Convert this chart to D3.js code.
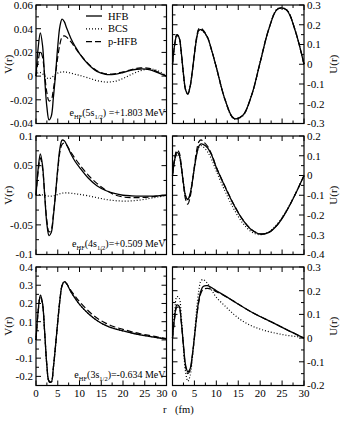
<!DOCTYPE html>
<meta charset="utf-8">
<script src="https://d3js.org/d3.v7.min.js"></script>
<style>
  body { margin: 0; background: #fff; }
</style>
<div id="chart"></div>
<script>

var width = 340, height = 422;
var serif = "'Liberation Serif', 'Times New Roman', Times, serif";

// radial grid (fm)
const R = [0,0.5,1,1.5,2,2.5,3,3.5,4,4.5,5,5.5,6,6.5,7,8,9,10,12,14,16,18,20,22,24,26,28,30];

// 5s1/2  --------------------------------------------------------------
const v5s_hfb  = [0,0.024,0.0365,0.026,-0.002,-0.026,-0.037,-0.034,-0.018,0.002,0.025,0.042,0.048,0.046,0.041,0.032,0.025,0.019,0.010,0.004,0.0015,0.0015,0.003,0.005,0.006,0.0055,0.003,0];
const v5s_bcs  = [0,0.003,0.003,0.002,0,-0.0015,-0.002,-0.0015,0,0.0012,0.0025,0.0032,0.0035,0.0035,0.0033,0.0025,0.0015,0.0006,-0.0015,-0.0038,-0.005,-0.0045,-0.002,0.0015,0.0045,0.006,0.0045,0];
const v5s_phfb = [0,0.013,0.021,0.016,0.001,-0.014,-0.021,-0.02,-0.011,0.002,0.016,0.027,0.033,0.034,0.033,0.029,0.024,0.019,0.0105,0.0045,0.002,0.002,0.0035,0.0055,0.007,0.0065,0.0035,0];
const u5s_hfb  = [0,0.1,0.148,0.135,0.06,-0.05,-0.13,-0.15,-0.115,-0.04,0.05,0.13,0.172,0.175,0.168,0.135,0.065,-0.015,-0.18,-0.274,-0.26,-0.16,0.01,0.18,0.28,0.275,0.17,0];
const u5s_bcs  = [0,0.098,0.146,0.133,0.058,-0.05,-0.128,-0.148,-0.113,-0.04,0.05,0.128,0.17,0.173,0.166,0.133,0.064,-0.016,-0.181,-0.276,-0.262,-0.161,0.01,0.181,0.282,0.277,0.171,0];
const u5s_phfb = [0,0.1,0.15,0.138,0.062,-0.05,-0.132,-0.152,-0.117,-0.04,0.055,0.137,0.18,0.183,0.173,0.137,0.066,-0.015,-0.18,-0.274,-0.26,-0.16,0.01,0.18,0.28,0.276,0.17,0];

// 4s1/2  --------------------------------------------------------------
const v4s_hfb  = [0,0.045,0.07,0.05,0,-0.048,-0.068,-0.063,-0.035,0.003,0.045,0.079,0.093,0.092,0.086,0.07,0.057,0.047,0.029,0.016,0.008,0.003,0,-0.001,-0.0015,-0.0015,-0.001,0];
const v4s_bcs  = [0,0.001,0.001,0.0005,0,-0.001,-0.0015,-0.0015,-0.001,0,0.0012,0.0025,0.0035,0.004,0.004,0.0035,0.0025,0.0015,-0.001,-0.004,-0.007,-0.009,-0.0098,-0.0095,-0.008,-0.0055,-0.003,0];
const v4s_phfb = [0,0.04,0.063,0.046,0.001,-0.043,-0.062,-0.058,-0.032,0.003,0.042,0.073,0.086,0.088,0.085,0.073,0.062,0.052,0.034,0.02,0.009,0.001,-0.003,-0.004,-0.004,-0.003,-0.0015,0];
const u4s_hfb  = [0,0.08,0.117,0.105,0.045,-0.04,-0.105,-0.122,-0.095,-0.035,0.04,0.105,0.148,0.16,0.158,0.14,0.1,0.04,-0.058,-0.149,-0.224,-0.275,-0.297,-0.288,-0.248,-0.181,-0.096,0];
const u4s_bcs  = [0,0.075,0.11,0.1,0.043,-0.04,-0.103,-0.12,-0.093,-0.034,0.04,0.105,0.143,0.151,0.145,0.12,0.078,0.022,-0.08,-0.17,-0.24,-0.285,-0.3,-0.285,-0.243,-0.177,-0.094,0];
const u4s_phfb = [0,0.088,0.128,0.118,0.05,-0.045,-0.122,-0.145,-0.112,-0.04,0.048,0.125,0.17,0.18,0.172,0.148,0.104,0.042,-0.056,-0.147,-0.222,-0.273,-0.295,-0.287,-0.247,-0.18,-0.095,0];

// 3s1/2  --------------------------------------------------------------
const v3s_hfb  = [0,0.16,0.245,0.2,0.04,-0.14,-0.228,-0.232,-0.15,-0.03,0.1,0.22,0.3,0.32,0.31,0.265,0.228,0.195,0.145,0.107,0.08,0.062,0.05,0.038,0.028,0.02,0.012,0.005];
const v3s_bcs  = [0,0.16,0.245,0.2,0.04,-0.14,-0.228,-0.232,-0.15,-0.03,0.1,0.22,0.3,0.32,0.31,0.265,0.228,0.195,0.145,0.107,0.08,0.062,0.05,0.038,0.028,0.02,0.012,0.005];
const v3s_phfb = [0,0.155,0.24,0.197,0.04,-0.138,-0.225,-0.23,-0.15,-0.03,0.1,0.218,0.297,0.318,0.31,0.272,0.24,0.21,0.16,0.12,0.092,0.072,0.058,0.045,0.034,0.025,0.016,0.007];
const u3s_hfb  = [0,0.09,0.14,0.135,0.07,-0.03,-0.115,-0.142,-0.13,-0.075,0.005,0.09,0.16,0.2,0.218,0.221,0.212,0.2,0.178,0.155,0.132,0.11,0.091,0.073,0.055,0.036,0.018,0];
const u3s_bcs  = [0,0.11,0.175,0.17,0.09,-0.04,-0.145,-0.182,-0.16,-0.09,0.01,0.12,0.2,0.242,0.247,0.23,0.2,0.172,0.135,0.1,0.072,0.052,0.038,0.027,0.019,0.012,0.007,0.003];
const u3s_phfb = [0,0.085,0.13,0.128,0.068,-0.035,-0.122,-0.15,-0.137,-0.08,0,0.085,0.152,0.19,0.206,0.21,0.205,0.196,0.177,0.155,0.132,0.11,0.091,0.073,0.055,0.036,0.018,0];

// axis ticks
const xTicks = [0,5,10,15,20,25,30];
const yTicks = {
  v5s: [-0.04,-0.02,0,0.02,0.04,0.06],
  u5s: [-0.3,-0.2,-0.1,0,0.1,0.2,0.3],
  v4s: [-0.1,-0.05,0,0.05,0.1],
  u4s: [-0.4,-0.3,-0.2,-0.1,0,0.1,0.2],
  v3s: [-0.2,-0.1,0,0.1,0.2,0.3,0.4],
  u3s: [-0.2,-0.1,0,0.1,0.2,0.3]
};
const legendNames = ["HFB","BCS","p-HFB"];
const levels = [
  {n:"5", e:"+1.803", gap:" "},
  {n:"4", e:"+0.509", gap:""},
  {n:"3", e:"-0.634", gap:""}
];

// ---------------------------------------------------------------------
var colX = [[36,166.5],[172.5,304]];
var rowY = [[5,123.5],[136,254.5],[267,385.5]];
var styles = [
  {dash:null, w:1.3},
  {dash:"1,2", w:1.2},
  {dash:"6,3", w:1.2}
];
var fsTick = "11px", fsText = "10.5px";

var panels = [
  {c:0,r:0, dom:[-0.04,0.06], ticks:yTicks.v5s, minor:0.01,  s:[v5s_hfb,v5s_bcs,v5s_phfb], lab:"V(r)"},
  {c:1,r:0, dom:[-0.3,0.3],   ticks:yTicks.u5s, minor:0.05,  s:[u5s_hfb,u5s_bcs,u5s_phfb], lab:"U(r)"},
  {c:0,r:1, dom:[-0.1,0.1],   ticks:yTicks.v4s, minor:0.025, s:[v4s_hfb,v4s_bcs,v4s_phfb], lab:"V(r)"},
  {c:1,r:1, dom:[-0.4,0.2],   ticks:yTicks.u4s, minor:0.05,  s:[u4s_hfb,u4s_bcs,u4s_phfb], lab:"U(r)"},
  {c:0,r:2, dom:[-0.25,0.4],  ticks:yTicks.v3s, minor:0.05,  s:[v3s_hfb,v3s_bcs,v3s_phfb], lab:"V(r)"},
  {c:1,r:2, dom:[-0.2,0.3],   ticks:yTicks.u3s, minor:0.05,  s:[u3s_hfb,u3s_bcs,u3s_phfb], lab:"U(r)"}
];

var svg = d3.select("#chart")
  .append("svg")
  .attr("width", width)
  .attr("height", height)
  .attr("font-family", serif);

panels.forEach(function(p){
  var x0 = colX[p.c][0], x1 = colX[p.c][1];
  var y0 = rowY[p.r][0], y1 = rowY[p.r][1];
  var x = d3.scaleLinear().domain([0,30]).range([x0,x1]);
  var y = d3.scaleLinear().domain(p.dom).range([y1,y0]);
  var g = svg.append("g");

  // curves (drawn first, frame on top)
  var line = d3.line()
    .x(function(d,i){ return x(R[i]); })
    .y(function(d){ return y(d); })
    .curve(d3.curveCatmullRom);
  [1,2,0].forEach(function(k){
    g.append("path")
      .attr("d", line(p.s[k]))
      .attr("fill","none")
      .attr("stroke","#000")
      .attr("stroke-width", styles[k].w)
      .attr("stroke-dasharray", styles[k].dash);
  });

  // ticks (inward, all four sides)
  var xMinor = d3.range(0, 30.01, 2.5);
  xMinor.forEach(function(t){
    var len = (t % 5 === 0) ? 5 : 3;
    g.append("line").attr("x1",x(t)).attr("x2",x(t)).attr("y1",y1).attr("y2",y1-len)
      .attr("stroke","#000").attr("stroke-width",1);
    g.append("line").attr("x1",x(t)).attr("x2",x(t)).attr("y1",y0).attr("y2",y0+len)
      .attr("stroke","#000").attr("stroke-width",1);
  });
  var nMin = Math.round((p.dom[1]-p.dom[0])/p.minor);
  for (var i=0;i<=nMin;i++){
    var v = p.dom[0] + i*p.minor;
    var major = p.ticks.some(function(t){ return Math.abs(t-v) < 1e-9; });
    var len = major ? 5 : 3;
    g.append("line").attr("x1",x0).attr("x2",x0+len).attr("y1",y(v)).attr("y2",y(v))
      .attr("stroke","#000").attr("stroke-width",1);
    g.append("line").attr("x1",x1).attr("x2",x1-len).attr("y1",y(v)).attr("y2",y(v))
      .attr("stroke","#000").attr("stroke-width",1);
  }

  // frame
  g.append("rect")
    .attr("x",x0).attr("y",y0).attr("width",x1-x0).attr("height",y1-y0)
    .attr("fill","none").attr("stroke","#000").attr("stroke-width",1.2);

  // y tick labels
  g.selectAll(".yl").data(p.ticks).join("text")
    .attr("x", p.c===0 ? x0-3 : x1+3)
    .attr("y", function(d){ return y(d); })
    .attr("dy","0.35em")
    .attr("text-anchor", p.c===0 ? "end" : "start")
    .style("font-size",fsTick)
    .text(function(d){ return String(d); });

  // axis title
  g.append("text")
    .attr("transform","translate(" + (p.c===0 ? 8 : 333) + "," + ((y0+y1)/2) + ") rotate(-90)")
    .attr("text-anchor","middle")
    .attr("dy","0.35em")
    .style("font-size","11px")
    .text(p.lab);

  // x tick labels on bottom row
  if (p.r === 2){
    g.selectAll(".xl").data(xTicks).join("text")
      .attr("x", function(d){
        if (p.c===0 && d===30) return x(d) + 1;
        if (p.c===1 && d===0) return x(d) - 1;
        return x(d);
      })
      .attr("y", y1+11.5)
      .attr("text-anchor", function(d){
        if (p.c===0 && d===30) return "end";
        if (p.c===1 && d===0) return "start";
        return "middle";
      })
      .style("font-size",fsTick)
      .text(function(d){ return d; });
  }

  // level annotation
  if (p.c === 0){
    var lv = levels[p.r];
    var t = g.append("text")
      .attr("x", x1-1).attr("y", y1-8)
      .attr("text-anchor","end")
      .style("font-size","10px");
    t.append("tspan").text("e");
    t.append("tspan").attr("baseline-shift","-3").style("font-size","6.5px").text("HF");
    t.append("tspan").text("(" + lv.n + "s");
    t.append("tspan").attr("baseline-shift","-3").style("font-size","6.5px").text("1/2");
    t.append("tspan").text(")" + lv.gap + "=" + lv.e + " MeV");
  }

  // legend in the first panel
  if (p.r === 0 && p.c === 0){
    legendNames.forEach(function(nm,k){
      var ly = 16 + k*12.8;
      g.append("line").attr("x1",86).attr("x2",102).attr("y1",ly).attr("y2",ly)
        .attr("stroke","#000").attr("stroke-width",styles[k].w)
        .attr("stroke-dasharray",styles[k].dash);
      g.append("text").attr("x",108).attr("y",ly).attr("dy","0.35em")
        .style("font-size",fsText).text(nm);
    });
  }
});

svg.append("text").attr("x",163).attr("y",413).style("font-size",fsText).text("r");
svg.append("text").attr("x",175).attr("y",413).style("font-size",fsText).text("(fm)");

</script>
